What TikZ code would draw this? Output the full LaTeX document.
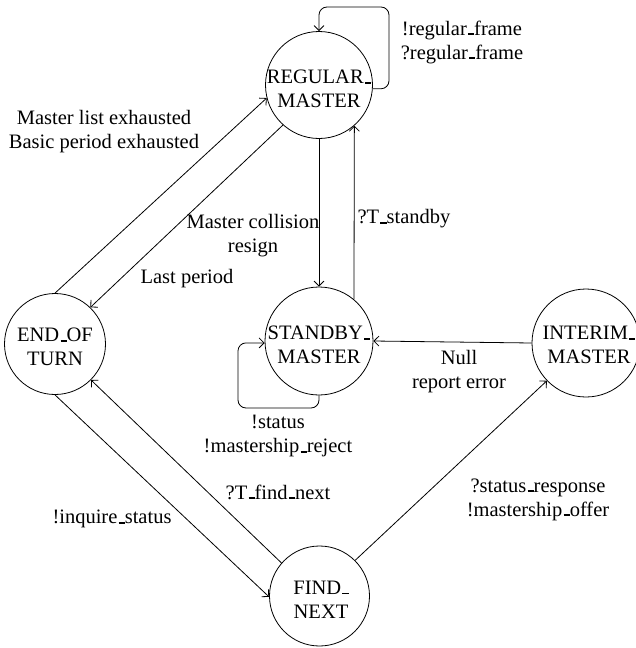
\documentclass[tikz,border=0pt]{standalone}
\usepackage{fontspec}
\setmainfont{Liberation Serif}
\usetikzlibrary{arrows.meta}
\newcommand\usc{\leavevmode\kern.06em\vbox{\hrule width.3em height .08em}}
\tikzset{
  every node/.style={font=\fontsize{20.5}{24}\selectfont},
  state/.style={draw, circle, line width=0.8pt, inner sep=0pt},
  stxt/.style={align=center, inner sep=0pt},
  lbl/.style={align=center, inner sep=0pt},
  arr/.style={line width=0.8pt, -{Straight Barb[length=5pt,width=10pt]}},
}
\begin{document}
\begin{tikzpicture}[x=1pt, y=-1pt]
\useasboundingbox (0,0) rectangle (636,648);
% states
\node[state, minimum size=107pt] (rm) at (319,85) {};
\node[stxt] (rmt) at (319,89) {REGULAR\usc\\MASTER};
\node[state, minimum size=108pt] (sb) at (319,341) {};
\node[stxt] (sbt) at (319,345) {STANDBY\usc\\MASTER};
\node[state, minimum size=101pt] (eot) at (55,344) {};
\node[stxt] (eott) at (55,347) {END\usc OF\\TURN};
\node[state, minimum size=108pt] (im) at (586,343) {};
\node[stxt] (imt) at (589,345) {INTERIM\usc\\MASTER};
\node[state, minimum size=100pt] (fn) at (319.5,596) {};
\node[stxt] (fnt) at (321,599.5) {FIND\usc\\NEXT};
% loop bend points
\coordinate (rmloop) at (389,7);
\coordinate (sbloop) at (238,408);
% transitions
\draw[arr, rounded corners=8pt] (rm.-4) -| (rmloop) -| (rm.90);
\draw[arr] (eot.90) -- (rm.194);
\draw[arr] (rm.228) -- (eot.46);
\draw[arr] (rm.270) -- (sb.90);
\draw[arr] (sb.50) -- (rm.-49);
\draw[arr] (im.180) -- (sb.0);
\draw[arr, rounded corners=8pt] (sb.270) |- (sbloop) |- (sb.182);
\draw[arr] (eot.270) -- (fn.181);
\draw[arr] (fn.139) -- (eot.-45);
\draw[arr] (fn.45) -- (im.224);
% labels
\node[lbl] (l1) at (462,42) {!regular\usc frame\\?regular\usc frame};
\node[lbl] (l2) at (104,131.5) {Master list exhausted\\Basic period exhausted};
\node[lbl] (l3) at (253,236) {Master collision\\resign};
\node[lbl] (l4) at (404,219) {?T\usc standby};
\node[lbl] (l5) at (187,279) {Last period};
\node[lbl] (l6) at (459,372) {Null\\report error};
\node[lbl] (l7) at (278,436) {!status\\!mastership\usc reject};
\node[lbl] (l8) at (278,492) {?T\usc find\usc next};
\node[lbl] (l9) at (112,519) {!inquire\usc status};
\node[lbl] (l10) at (538,499.5) {?status\usc response\\!mastership\usc offer};
\end{tikzpicture}
\end{document}
